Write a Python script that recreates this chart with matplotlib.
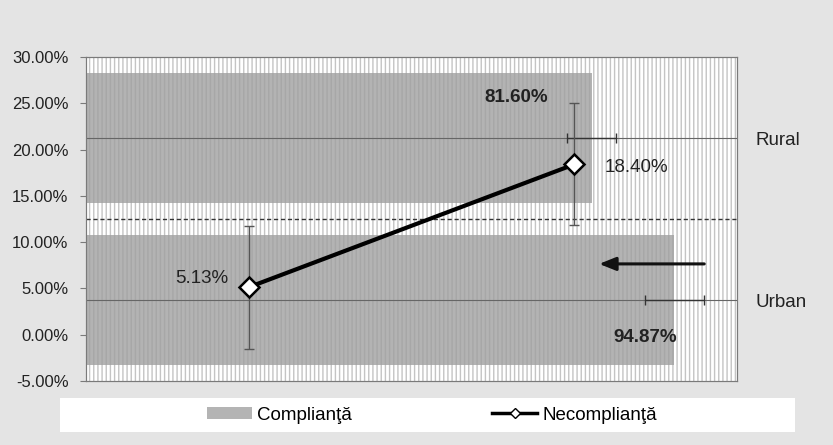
import matplotlib.pyplot as plt
from matplotlib.patches import Rectangle
from matplotlib.lines import Line2D
from matplotlib.patches import Patch

plt.rcParams['font.family'] = ['Liberation Sans', 'DejaVu Sans']
plt.rcParams['hatch.linewidth'] = 1.0

# bars (compliance) per area, drawn on their own 0..105% scale
areas = ['Urban', 'Rural']
complianta = [0.9487, 0.8160]
complianta_err = [0.0475, 0.0395]

# line (non-compliance) points, Urban then Rural
necomplianta = [5.13, 18.40]
necomplianta_err = [6.65, 6.6]

y_ticks = [-5, 0, 5, 10, 15, 20, 25, 30]

rect = [0.1032, 0.1438, 0.7815, 0.7281]
fig = plt.figure(figsize=(8.33, 4.45), dpi=100)
fig.patch.set_facecolor('#e4e4e4')

# bar axes underneath, with the striped plot-area fill
axb = fig.add_axes(rect)
axb.add_patch(Rectangle((0, 0), 1, 1, transform=axb.transAxes, facecolor='white',
                        edgecolor='#c4c4c4', hatch='||||', lw=0, zorder=0))
ypos = list(range(len(areas)))
axb.barh(ypos, complianta, height=0.8, color='#a0a0a0', alpha=0.8, zorder=1)
axb.errorbar(complianta, ypos, xerr=complianta_err, fmt='none', ecolor='#333333',
             elinewidth=1, capsize=3.5, zorder=3)
for y in ypos:
    axb.axhline(y, color='#666666', lw=0.8, zorder=2)
axb.axhline(0.5, color='#333333', lw=1, ls=(0, (3, 2)), zorder=2)
axb.set_xlim(0, 1.05)
axb.set_ylim(-0.5, 1.5)
axb.xaxis.set_visible(False)
axb.yaxis.tick_right()
axb.set_yticks(ypos)
axb.set_yticklabels(areas, fontsize=13.5, color='#222222')
axb.tick_params(axis='y', length=0, pad=13)
for s in axb.spines.values():
    s.set_color('#7a7a7a')

axb.text(0.694, 1.247, '{:.2f}%'.format(complianta[1] * 100), ha='center', va='center',
         fontsize=13.5, fontweight='bold', color='#222222', zorder=5)
axb.text(0.9015, -0.23, '{:.2f}%'.format(complianta[0] * 100), ha='center', va='center',
         fontsize=13.5, fontweight='bold', color='#222222', zorder=5)

# line axes on top
ax = fig.add_axes(rect, facecolor='none')
x = [0, 1]
ax.errorbar(x, necomplianta, yerr=necomplianta_err, fmt='none', ecolor='#555555',
            elinewidth=1, capsize=3.6, zorder=3)
ax.plot(x, necomplianta, color='black', lw=3, marker='D', markersize=10.5,
        markerfacecolor='white', markeredgecolor='black', markeredgewidth=1.8, zorder=4)
ax.set_xlim(-0.5, 1.5)
ax.set_ylim(-5, 30)
ax.set_yticks(y_ticks)
ax.set_yticklabels(['{:.2f}%'.format(v) for v in y_ticks], fontsize=12, color='#222222')
ax.tick_params(axis='y', direction='out', length=4.5, color='#7a7a7a', pad=8)
ax.xaxis.set_visible(False)
for s in ax.spines.values():
    s.set_color('#7a7a7a')

ax.annotate('{:.2f}%'.format(necomplianta[0]), (x[0], necomplianta[0]), xytext=(-14.5, 6.5),
            textcoords='offset points', ha='right', va='center', fontsize=13.5, color='#222222')
ax.annotate('{:.2f}%'.format(necomplianta[1]), (x[1], necomplianta[1]), xytext=(22, -2),
            textcoords='offset points', ha='left', va='center', fontsize=13.5, color='#222222')

# arrow pointing left
ax.annotate('', xy=(0.784, 7.65), xytext=(0.954, 7.65), xycoords=('axes fraction', 'data'),
            arrowprops=dict(arrowstyle='-|>,head_length=1.0,head_width=0.4', lw=2.2,
                            color='#111111'))

# legend on a white strip
fig.patches.append(Rectangle((0.072, 0.029), 0.882, 0.076, transform=fig.transFigure,
                             facecolor='white', edgecolor='none', zorder=0))
handles = [Patch(facecolor='#b4b4b4', edgecolor='none'),
           Line2D([], [], color='black', lw=2.5, marker='D', markersize=5,
                  markerfacecolor='white', markeredgecolor='black')]
fig.legend(handles, ['Complianţă', 'Necomplianţă'], loc='center',
           bbox_to_anchor=(0.5186, 0.0674), ncol=2, frameon=False, fontsize=13.5,
           columnspacing=7.5, handlelength=2.4, handleheight=0.55, handletextpad=0.27)

fig.savefig('out.png', dpi=100, facecolor=fig.get_facecolor())
